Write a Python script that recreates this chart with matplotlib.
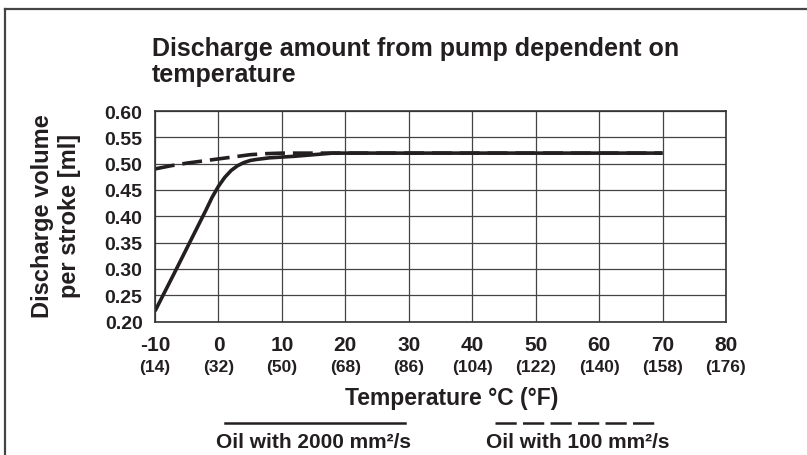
import matplotlib
matplotlib.use("Agg")
import matplotlib.pyplot as plt
from matplotlib.lines import Line2D

plt.rcParams['font.family'] = ['Liberation Sans', 'DejaVu Sans']
plt.rcParams['font.weight'] = 'bold'

INK = '#231f20'

# temperature ticks in °C and the matching °F labels
temp_c = [-10, 0, 10, 20, 30, 40, 50, 60, 70, 80]
temp_f = [14, 32, 50, 68, 86, 104, 122, 140, 158, 176]
vol_ticks = [0.20, 0.25, 0.30, 0.35, 0.40, 0.45, 0.50, 0.55, 0.60]

# oil with 2000 mm²/s (solid)
thick_t = [-10, -7, -4, -2, -1, 0, 1, 2, 3, 4, 5, 6, 8, 10, 12, 14, 16, 18, 20, 70]
thick_v = [0.220, 0.291, 0.363, 0.411, 0.436, 0.457, 0.474, 0.487, 0.496, 0.502,
           0.506, 0.508, 0.511, 0.5125, 0.514, 0.516, 0.518, 0.520, 0.520, 0.520]

# oil with 100 mm²/s (dashed)
thin_t = [-10, -7.5, -5, -2.5, 0, 2.5, 5, 7.5, 10, 70]
thin_v = [0.490, 0.496, 0.501, 0.505, 0.509, 0.513, 0.517, 0.519, 0.520, 0.520]

fig = plt.figure(figsize=(8.07, 4.56), dpi=100)
ax = fig.add_axes([155 / 807, 1 - 322.6 / 456, (726 - 155) / 807, (322.6 - 112) / 456])

ax.plot(thick_t, thick_v, color=INK, lw=2.6, solid_capstyle='butt')
ax.plot(thin_t, thin_v, color=INK, lw=2.6, dashes=(5.5, 2.2))

ax.set_xlim(-10, 80)
ax.set_ylim(0.20, 0.60)
ax.set_xticks(temp_c)
ax.set_xticklabels([str(c) for c in temp_c], fontsize=15, fontweight='bold', color=INK)
ax.set_yticks(vol_ticks)
ax.set_yticklabels([f"{v:.2f}" for v in vol_ticks], fontsize=14, fontweight='bold', color=INK)
ax.tick_params(axis='x', length=0, pad=10)
ax.tick_params(axis='y', length=0, pad=9)
ax.grid(True, color='#444444', lw=0.9)
ax.set_axisbelow(True)
for s in ax.spines.values():
    s.set_color('#333333')
    s.set_linewidth(1.2)

# °F labels under the °C ticks
for c, f in zip(temp_c, temp_f):
    ax.annotate(f"({f})", xy=(c, 0), xycoords=('data', 'axes fraction'),
                xytext=(0, -32), textcoords='offset points',
                ha='center', va='center', fontsize=12.5, fontweight='bold', color=INK)

fig.text(452 / 807, 1 - 398 / 456, "Temperature °C (°F)", ha='center', va='center',
         fontsize=16.5, fontweight='bold', color=INK)
fig.text(56 / 807, 1 - 216 / 456, "Discharge volume\nper stroke [ml]", ha='center', va='center',
         rotation=90, fontsize=17, fontweight='bold', color=INK, linespacing=1.25)
fig.text(152 / 807, 1 - 37 / 456, "Discharge amount from pump dependent on\ntemperature",
         ha='left', va='top', fontsize=18, fontweight='bold', color=INK, linespacing=1.1)

# legend drawn below the x axis label
fig.add_artist(Line2D([225 / 807, 405 / 807], [1 - 424 / 456] * 2, color=INK, lw=1.8))
fig.add_artist(Line2D([495 / 807, 660 / 807], [1 - 424 / 456] * 2, color=INK, lw=1.8,
                      dashes=(8.5, 2.5)))
fig.text(313 / 807, 1 - 443 / 456, "Oil with 2000 mm²/s", ha='center', va='center',
         fontsize=15, fontweight='bold', color=INK)
fig.text(578 / 807, 1 - 443 / 456, "Oil with 100 mm²/s", ha='center', va='center',
         fontsize=15, fontweight='bold', color=INK)

# outer frame
fig.add_artist(Line2D([5 / 807, 5 / 807], [0, 1 - 10 / 456], color='#444444', lw=1.6))
fig.add_artist(Line2D([5 / 807, 1], [1 - 10 / 456] * 2, color='#444444', lw=1.6))

fig.savefig("out.png", dpi=100)
